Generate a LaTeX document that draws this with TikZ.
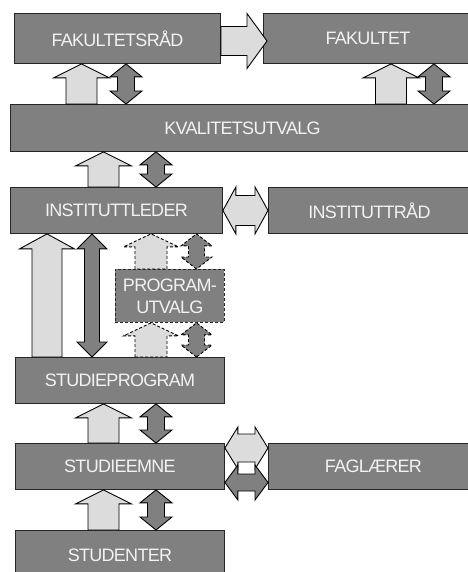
\documentclass[tikz,border=0pt]{standalone}
\usepackage{fontspec}
\setmainfont{Liberation Sans}
\usetikzlibrary{calc}
\definecolor{boxgray}{HTML}{808080}
\definecolor{boxtext}{HTML}{F2F2F2}
\definecolor{dotgray}{HTML}{DCDCDC}
\newcommand{\boxfont}{\fontsize{18}{22}\selectfont\addfontfeature{LetterSpace=-4}}
% fat arrow: style, from, to, half shaft, half head, head length
\newcommand{\fatarrow}[6]{%
  \coordinate (s) at (#2); \coordinate (t) at (#3);
  \coordinate (hb) at ($(t)!#6!(s)$);
  \draw[#1] ($(s)!#4!90:(t)$) -- ($(hb)!#4!-90:(s)$) -- ($(hb)!#5!-90:(s)$) -- (t)
    -- ($(hb)!#5!90:(s)$) -- ($(hb)!#4!90:(s)$) -- ($(s)!#4!-90:(t)$) -- cycle;}
% same, with a head at both ends
\newcommand{\fatdarrow}[6]{%
  \coordinate (s) at (#2); \coordinate (t) at (#3);
  \coordinate (ha) at ($(s)!#6!(t)$); \coordinate (hb) at ($(t)!#6!(s)$);
  \draw[#1] (s) -- ($(ha)!#5!90:(t)$) -- ($(ha)!#4!90:(t)$) -- ($(hb)!#4!-90:(s)$)
    -- ($(hb)!#5!-90:(s)$) -- (t) -- ($(hb)!#5!90:(s)$) -- ($(hb)!#4!90:(s)$)
    -- ($(ha)!#4!-90:(t)$) -- ($(ha)!#5!-90:(t)$) -- cycle;}
\tikzset{
box/.style={draw=black!85, line width=0.9pt, fill=boxgray, text=boxtext, font=\boxfont, inner sep=0pt, anchor=north west}, % grey units
lightarrow/.style={draw=black, line width=0.9pt, fill=dotgray}, % reporting
darkarrow/.style={draw=black, line width=0.9pt, fill=boxgray}, % dialogue
loose/.style={dash pattern=on 3pt off 2pt}, % optional link
}
\begin{document}
\begin{tikzpicture}[x=1pt,y=-1pt]
  \useasboundingbox (0,0) rectangle (467,572);
  \node[box, minimum width=206, minimum height=50] (fakr) at (14,13) {FAKULTETSRÅD};
  \node[box, minimum width=209, minimum height=50] (fak) at (263,13) {FAKULTET};
  \node[box, minimum width=464, minimum height=47] (kval) at (10,104) {KVALITETSUTVALG};
  \node[box, minimum width=212, minimum height=46] (instl) at (10,187) {INSTITUTTLEDER};
  \node[box, minimum width=202, minimum height=46] (instr) at (268,187) {INSTITUTTRÅD};
  \node[box, loose, minimum width=109, minimum height=53, align=center] (pu) at (115,269) {PROGRAM-\\UTVALG};
  \node[box, minimum width=209, minimum height=46] (sp) at (15,357) {STUDIEPROGRAM};
  \node[box, minimum width=209, minimum height=46] (se) at (15,443) {STUDIEEMNE};
  \node[box, minimum width=210, minimum height=46] (fl) at (268,443) {FAGLÆRER};
  \node[box, minimum width=209, minimum height=50] (stud) at (15,530) {STUDENTER};

  \fatarrow{lightarrow}{fakr.east |- 0,41}{$(fak.west |- 0,41)+(4,0)$}{14.5pt}{27.5pt}{20pt};
  \foreach \xa/\xb/\lo/\hi in {81.5/126/kval/fakr, 391/434/kval/fak, 103.5/156/instl/kval, 103.5/156/se/sp, 103.5/156/stud/se} {
    \fatarrow{lightarrow}{\xa,0 |- \lo.north}{\xa,0 |- \hi.south}{15.5pt}{28pt}{14pt};
    \fatdarrow{darkarrow}{\xb,0 |- \lo.north}{\xb,0 |- \hi.south}{8.5pt}{16pt}{13pt};
  }
  \fatarrow{lightarrow}{47,0 |- sp.north}{47,0 |- instl.south}{15pt}{27.5pt}{15pt};
  \fatdarrow{darkarrow}{92,0 |- sp.north}{92,0 |- instl.south}{7.5pt}{15pt}{15pt};
  \foreach \lo/\hi in {pu/instl, sp/pu} {
    \fatarrow{lightarrow,loose}{151,0 |- \lo.north}{151,0 |- \hi.south}{16pt}{27.5pt}{13pt};
    \fatdarrow{darkarrow,loose}{196.5,0 |- \lo.north}{196.5,0 |- \hi.south}{8pt}{15.5pt}{12pt};
  }
  \fatdarrow{lightarrow}{instl.east}{instr.west}{15pt}{23.5pt}{13pt};
  \fatdarrow{lightarrow}{se.east |- 0,448}{fl.west |- 0,448}{14pt}{21pt}{13pt};
  \fatdarrow{darkarrow}{se.east |- 0,482.5}{fl.west |- 0,482.5}{8.5pt}{17.5pt}{13pt};
\end{tikzpicture}
\end{document}
